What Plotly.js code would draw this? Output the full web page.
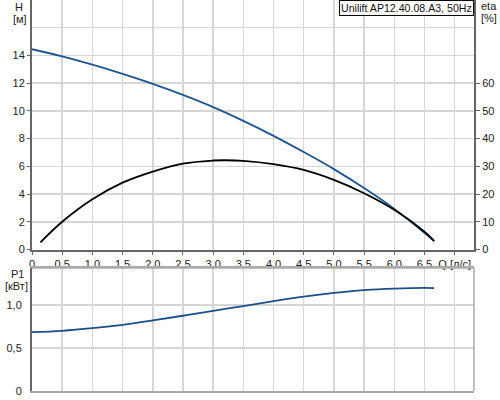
<!DOCTYPE html>
<html><head><meta charset="utf-8">
<script src="https://cdn.plot.ly/plotly-3.0.1.min.js"></script>
<style>html,body{margin:0;padding:0;background:#fff}#c{width:500px;height:400px}</style>
</head><body><div id="c"></div>
<script>
// Q [л/с]
const qH = [0, 0.5, 1.0, 1.5, 2.0, 2.5, 3.0, 3.5, 4.0, 4.5, 5.0, 5.5, 6.0, 6.5, 6.66];
const headH = [14.45, 13.93, 13.33, 12.67, 11.95, 11.15, 10.27, 9.28, 8.2, 7.03, 5.8, 4.43, 2.93, 1.2, 0.61];

const qEta = [0.14, 0.5, 1.0, 1.5, 2.0, 2.5, 3.0, 3.2, 3.5, 4.0, 4.5, 5.0, 5.5, 6.0, 6.5, 6.66];
const eta = [2.6, 10.0, 18.1, 24.1, 28.1, 31.0, 32.1, 32.2, 32.0, 30.8, 28.7, 25.1, 20.3, 14.3, 6.4, 3.1];

const qP = [0, 0.5, 1.0, 1.5, 2.0, 2.5, 3.0, 3.5, 4.0, 4.5, 5.0, 5.5, 6.0, 6.5, 6.66];
const p1 = [0.685, 0.70, 0.73, 0.77, 0.82, 0.875, 0.932, 0.988, 1.045, 1.097, 1.14, 1.172, 1.19, 1.198, 1.195];

const xTickVals = [0, 0.5, 1.0, 1.5, 2.0, 2.5, 3.0, 3.5, 4.0, 4.5, 5.0, 5.5, 6.0, 6.5, 7.0];
const xTickText = ["0", "0,5", "1,0", "1,5", "2,0", "2,5", "3,0", "3,5", "4,0", "4,5", "5,0", "5,5", "6,0", "6,5", "Q [л/с]"];
const hTicks = [0, 2, 4, 6, 8, 10, 12, 14];
const etaTicks = [0, 10, 20, 30, 40, 50, 60];
const pTickVals = [0, 0.5, 1.0];
const pTickText = ["0", "0,5", "1,0"];

const font = {family: "Liberation Sans, Arial, sans-serif", size: 11, color: "#222"};
const legendFont = {family: "Liberation Sans, Arial, sans-serif", size: 10.6, color: "#111"};
const grid = "#d6d6d6";

const traces = [
  {x: qH, y: headH, xaxis: "x", yaxis: "y", mode: "lines", line: {color: "#1f5591", width: 1.8, shape: "spline"}, hoverinfo: "skip"},
  {x: qEta, y: eta, xaxis: "x", yaxis: "y3", mode: "lines", line: {color: "#000", width: 1.8, shape: "spline"}, hoverinfo: "skip"},
  {x: qP, y: p1, xaxis: "x2", yaxis: "y2", mode: "lines", line: {color: "#1a4f8a", width: 1.8, shape: "spline"}, hoverinfo: "skip"}
];

const H = 391;
const layout = {
  width: 500, height: 400,
  margin: {l: 32, r: 26, t: 0, b: 9},
  paper_bgcolor: "#fff", plot_bgcolor: "#fff",
  showlegend: false,
  font: font,
  xaxis: {
    domain: [0, 1], anchor: "y", range: [0, 7.32],
    tickvals: xTickVals, ticktext: xTickText,
    showgrid: true, gridcolor: grid, gridwidth: 1.5,
    showline: true, linecolor: "#666", linewidth: 2,
    ticks: "outside", ticklen: 3, tickcolor: "#666",
    zeroline: false, tickfont: font
  },
  yaxis: {
    domain: [(H - 249.5) / H, 1], anchor: "x", range: [0, 18],
    tickvals: hTicks,
    showgrid: true, gridcolor: grid, gridwidth: 1.5,
    minor: {tickvals: [16], showgrid: true, gridcolor: grid, gridwidth: 1.5, ticks: ""},
    showline: true, linecolor: "#666", linewidth: 2,
    ticks: "outside", ticklen: 3, tickcolor: "#666",
    zeroline: false, tickfont: font
  },
  yaxis3: {
    overlaying: "y", side: "right", anchor: "x", range: [0, 90],
    tickvals: etaTicks, showgrid: false,
    showline: true, linecolor: "#666", linewidth: 2,
    ticks: "outside", ticklen: 4, tickcolor: "#666",
    zeroline: false, tickfont: font
  },
  xaxis2: {
    domain: [0, 1], anchor: "y2", range: [0, 7.32],
    tickvals: xTickVals, showticklabels: false,
    showgrid: true, gridcolor: grid, gridwidth: 1.5,
    showline: true, linecolor: "#aaa", linewidth: 2, mirror: true,
    ticks: "", zeroline: false
  },
  yaxis2: {
    domain: [0, (H - 268) / H], anchor: "x2", range: [0, 1.43],
    tickvals: pTickVals, ticktext: pTickText,
    showgrid: true, gridcolor: grid, gridwidth: 1.5,
    showline: true, linecolor: "#666", linewidth: 2,
    ticks: "", ticklabelstandoff: 6,
    zeroline: false, tickfont: font
  },
  shapes: [
    {type: "line", xref: "paper", yref: "paper", x0: 1, x1: 1, y0: 0, y1: (H - 268) / H, line: {color: "#aaa", width: 1.5}},
    {type: "line", xref: "paper", yref: "paper", x0: 0, x1: 1, y0: (H - 268) / H, y1: (H - 268) / H, line: {color: "#aaa", width: 1.5}}
  ],
  annotations: [
    {text: "Unilift AP12.40.08.A3, 50Hz", xref: "paper", yref: "paper", x: 1, y: 1, xanchor: "right", yanchor: "top",
     showarrow: false, bgcolor: "#fff", bordercolor: "#000", borderwidth: 1, borderpad: 1, font: legendFont},
    {text: "H", xref: "paper", yref: "paper", x: (19 - 32) / 442, y: (H - 7) / H, xanchor: "center", yanchor: "middle", showarrow: false, font: font},
    {text: "[м]", xref: "paper", yref: "paper", x: (20 - 32) / 442, y: (H - 19) / H, xanchor: "center", yanchor: "middle", showarrow: false, font: font},
    {text: "eta", xref: "paper", yref: "paper", x: (479 - 32) / 442, y: (H - 6) / H, xanchor: "left", yanchor: "middle", showarrow: false, font: font},
    {text: "[%]", xref: "paper", yref: "paper", x: (479 - 32) / 442, y: (H - 18) / H, xanchor: "left", yanchor: "middle", showarrow: false, font: font},
    {text: "P1", xref: "paper", yref: "paper", x: (17 - 32) / 442, y: (H - 274) / H, xanchor: "center", yanchor: "middle", showarrow: false, font: font},
    {text: "[кВт]", xref: "paper", yref: "paper", x: (16 - 32) / 442, y: (H - 286) / H, xanchor: "center", yanchor: "middle", showarrow: false, font: font}
  ]
};

Plotly.newPlot("c", traces, layout, {staticPlot: true, displayModeBar: false});
</script></body></html>
